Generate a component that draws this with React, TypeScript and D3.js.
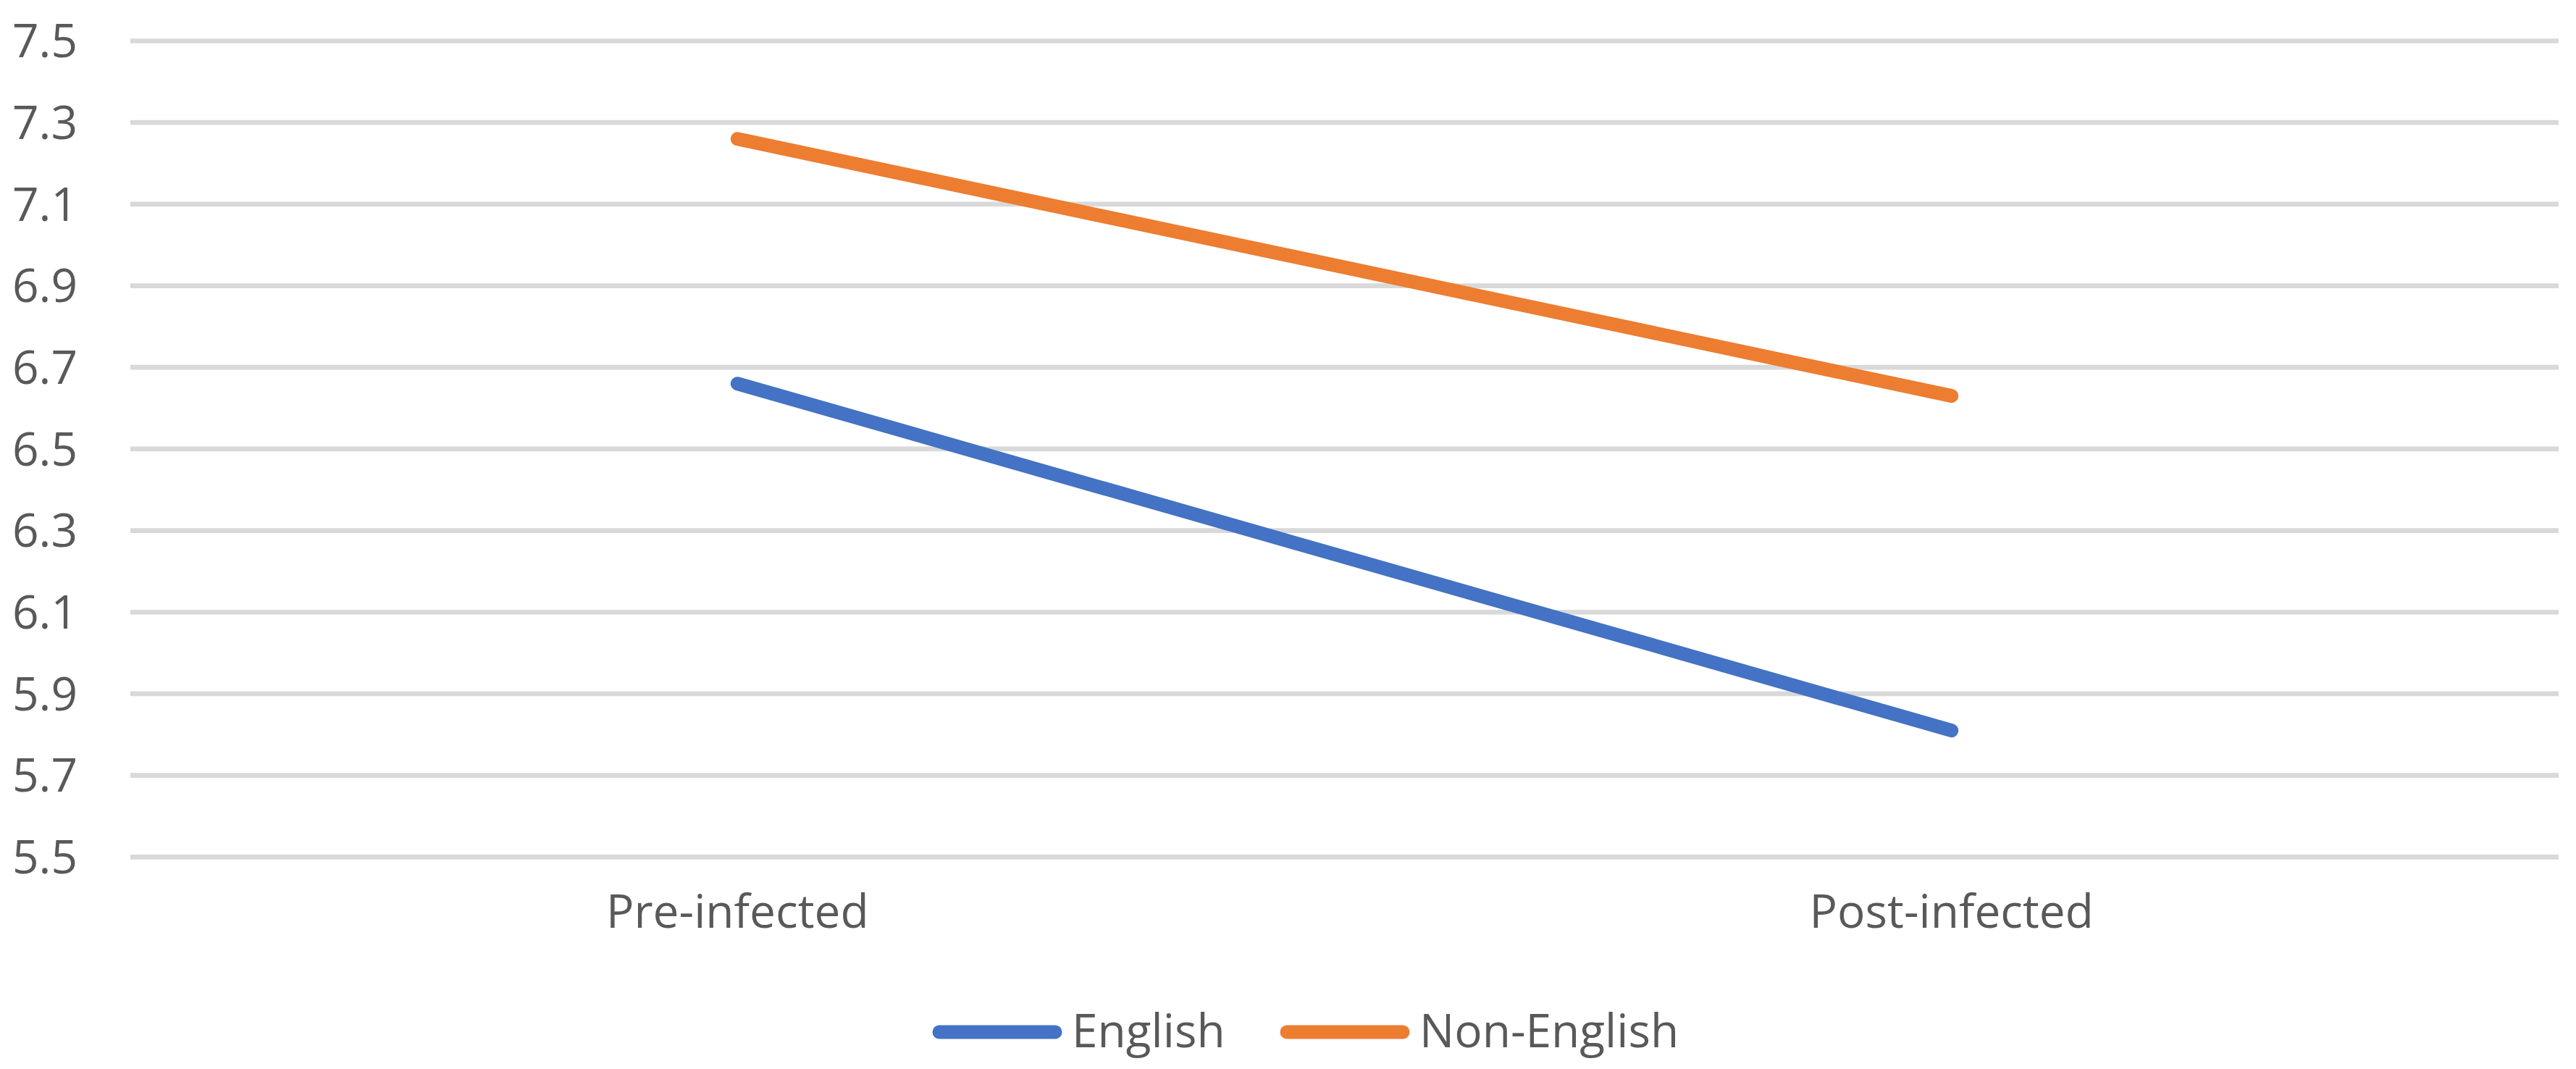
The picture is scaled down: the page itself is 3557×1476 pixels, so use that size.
import React, { useEffect } from "react";
import * as d3 from "d3";

const categories = ["Pre-infected", "Post-infected"];
const seriesNames = ["English", "Non-English"];
const englishValues = [6.66, 5.81];
const nonEnglishValues = [7.26, 6.63];
const yTicks = [5.5, 5.7, 5.9, 6.1, 6.3, 6.5, 6.7, 6.9, 7.1, 7.3, 7.5];
const seriesColors = ["#4472C4", "#ED7D31"];

const W = 3557;
const H = 1476;
const left = 180;
const right = 3533;
const top = 56.5;
const bottom = 1183.3;
const FONT = "'Open Sans', 'Noto Sans', sans-serif";
const TEXT = "#595959";

export default function App() {
  useEffect(() => {
    document.body.style.margin = "0";
  }, []);

  const x = d3.scalePoint<string>().domain(categories).range([left, right]).padding(0.5);
  const y = d3.scaleLinear().domain([5.5, 7.5]).range([bottom, top]);
  const line = d3
    .line<number>()
    .x((_, i) => x(categories[i]) as number)
    .y((d) => y(d));

  const series = [englishValues, nonEnglishValues];

  const legendItems = [
    { x0: 1297, x1: 1457, tx: 1480 },
    { x0: 1777, x1: 1937, tx: 1960 },
  ];
  const legendY = 1425;

  return (
    <svg width={W} height={H} style={{ display: "block", background: "#fff" }}>
      <rect x={0} y={0} width={W} height={H} fill="#fff" />
      {yTicks.map((t) => (
        <g key={t}>
          <line x1={left} x2={right} y1={y(t)} y2={y(t)} stroke="#D9D9D9" strokeWidth={6.7} />
          <text
            x={107}
            y={y(t)}
            dy="0.355em"
            textAnchor="end"
            fontFamily={FONT}
            fontSize={64}
            fill={TEXT}
          >
            {t.toFixed(1)}
          </text>
        </g>
      ))}
      {categories.map((c) => (
        <text
          key={c}
          x={x(c) as number}
          y={1281}
          textAnchor="middle"
          fontFamily={FONT}
          fontSize={64}
          fill={TEXT}
        >
          {c}
        </text>
      ))}
      {series.map((vals, i) => (
        <path
          key={seriesNames[i]}
          d={line(vals) as string}
          fill="none"
          stroke={seriesColors[i]}
          strokeWidth={19}
          strokeLinecap="round"
          strokeLinejoin="round"
        />
      ))}
      {seriesNames.map((n, i) => (
        <g key={n}>
          <line
            x1={legendItems[i].x0}
            x2={legendItems[i].x1}
            y1={legendY}
            y2={legendY}
            stroke={seriesColors[i]}
            strokeWidth={19}
            strokeLinecap="round"
          />
          <text
            x={legendItems[i].tx}
            y={1446}
            fontFamily={FONT}
            fontSize={64}
            fill={TEXT}
          >
            {n}
          </text>
        </g>
      ))}
    </svg>
  );
}
